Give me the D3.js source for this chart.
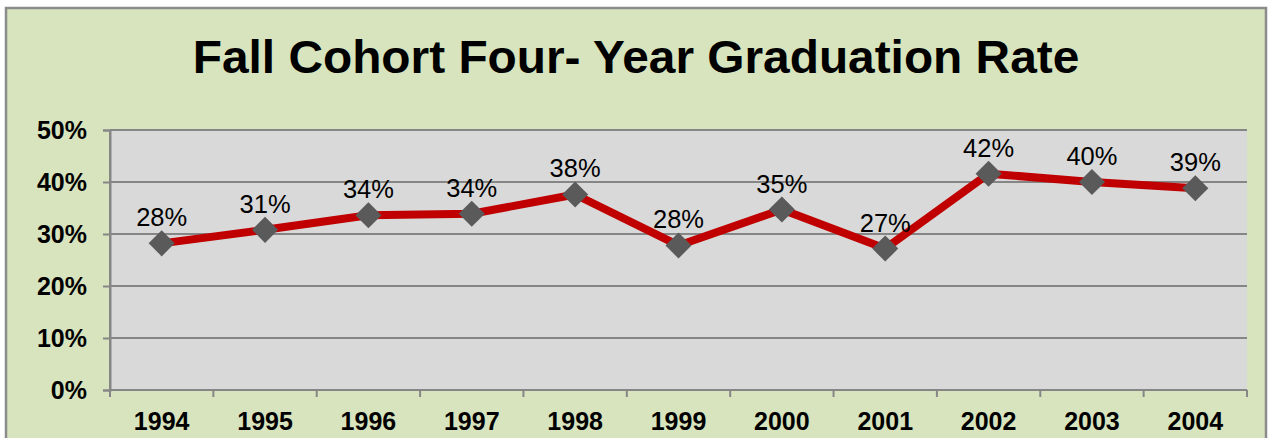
<!DOCTYPE html>
<html>
<head>
<meta charset="utf-8">
<script src="https://cdn.jsdelivr.net/npm/d3@7"></script>
<style>
  body { margin: 0; background: #ffffff; }
  text { font-family: "Liberation Sans", Arial, sans-serif; }
</style>
</head>
<body>
<div id="chart"></div>
<script>
// data
var years = ["1994", "1995", "1996", "1997", "1998", "1999", "2000", "2001", "2002", "2003", "2004"];
var rates = [0.282, 0.308, 0.336, 0.339, 0.376, 0.278, 0.347, 0.272, 0.416, 0.400, 0.388];
var yTicks = [0, 0.1, 0.2, 0.3, 0.4, 0.5];
var title = "Fall Cohort Four- Year Graduation Rate";

var svgWidth = 1270, svgHeight = 438;
var margin = { top: 130, right: 23, bottom: 48, left: 110 };
var width = svgWidth - margin.left - margin.right;
var height = svgHeight - margin.top - margin.bottom;

var svg = d3.select("#chart").append("svg")
  .attr("width", svgWidth)
  .attr("height", svgHeight);

// chart area background + border
svg.append("rect")
  .attr("x", 6).attr("y", 8)
  .attr("width", 1260).attr("height", 440)
  .attr("fill", "#d7e4bd")
  .attr("stroke", "#8c8c8c")
  .attr("stroke-width", 2.5);

// small helper for text
function addText(parent, x, y, str, size, weight, anchor, sx) {
  return parent.append("text")
    .attr("transform", `translate(${x},${y}) scale(${sx || 1},1)`)
    .attr("text-anchor", anchor || "middle")
    .attr("font-size", size)
    .attr("font-weight", weight || "normal")
    .attr("fill", "#000")
    .text(str);
}

addText(svg, 636, 73, title, 46, "bold", "middle", 1.04);

var g = svg.append("g")
  .attr("transform", `translate(${margin.left}, ${margin.top})`);

var xScale = d3.scaleBand().domain(years).range([0, width]);
var yScale = d3.scaleLinear().domain([0, 0.5]).range([height, 0]);

g.append("rect")
  .attr("width", width).attr("height", height)
  .attr("fill", "#d9d9d9");

// gridlines
g.selectAll(".grid")
  .data(yTicks)
  .enter()
  .append("line")
  .attr("x1", 0).attr("x2", width)
  .attr("y1", d => yScale(d)).attr("y2", d => yScale(d))
  .attr("stroke", "#868686")
  .attr("stroke-width", 2);

// y axis
var yAxis = d3.axisLeft(yScale).tickValues(yTicks).tickSize(7).tickFormat("");
g.append("g").call(yAxis)
  .call(s => s.selectAll("line, path").attr("stroke", "#868686").attr("stroke-width", 2));

yTicks.forEach(function(t) {
  addText(g, -23, yScale(t) + 9, d3.format(".0%")(t), 25, "bold", "end");
});

// x axis, ticks at band edges
var edges = years.map(d => xScale(d)).concat([width]);
g.append("line")
  .attr("x1", 0).attr("x2", width)
  .attr("y1", height).attr("y2", height)
  .attr("stroke", "#868686").attr("stroke-width", 2);
g.selectAll(".xtick")
  .data(edges)
  .enter()
  .append("line")
  .attr("x1", d => d).attr("x2", d => d)
  .attr("y1", height).attr("y2", height + 7)
  .attr("stroke", "#868686").attr("stroke-width", 2);
g.append("line")
  .attr("x1", 0).attr("x2", 0)
  .attr("y1", 0).attr("y2", height)
  .attr("stroke", "#868686").attr("stroke-width", 2);

years.forEach(function(y) {
  addText(g, xScale(y) + xScale.bandwidth() / 2, height + 40, y, 25, "bold");
});

// the line
var points = years.map((y, i) => ({ year: y, v: rates[i] }));
var line = d3.line()
  .x(d => xScale(d.year) + xScale.bandwidth() / 2)
  .y(d => yScale(d.v));

g.append("path")
  .datum(points)
  .attr("d", line)
  .attr("fill", "none")
  .attr("stroke", "#c00000")
  .attr("stroke-width", 8)
  .attr("stroke-linejoin", "round");

// diamond markers
var diamond = d3.symbol().type(d3.symbolSquare).size(340);
g.selectAll(".marker")
  .data(points)
  .enter()
  .append("path")
  .attr("d", diamond)
  .attr("transform", d => `translate(${xScale(d.year) + xScale.bandwidth() / 2},${yScale(d.v)}) rotate(45)`)
  .attr("fill", "#5a5a5a");

// value labels
points.forEach(function(d) {
  addText(g, xScale(d.year) + xScale.bandwidth() / 2, yScale(d.v) - 17, d3.format(".0%")(d.v), 25.5, "normal");
});
</script>
</body>
</html>
